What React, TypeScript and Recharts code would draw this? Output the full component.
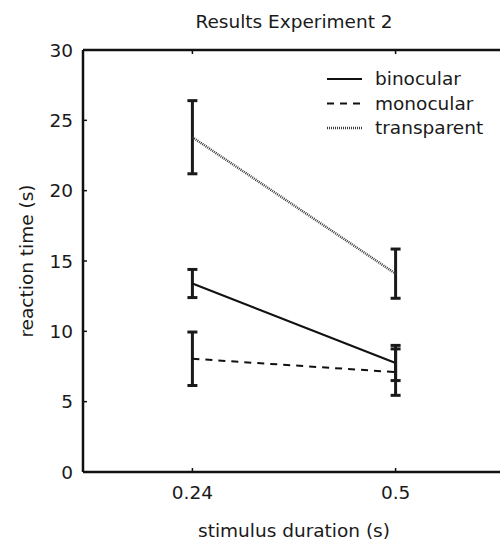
import React from 'react';
import { LineChart, Line, XAxis, YAxis, ErrorBar, Legend, Text } from 'recharts';

// ---- data ----
const durations = [0.24, 0.5];
const binocular = [13.4, 7.75];
const binocularErr = [1.0, 1.25];
const monocular = [8.05, 7.1];
const monocularErr = [1.9, 1.65];
const transparent = [23.8, 14.1];
const transparentErr = [2.6, 1.75];
const xTicks = [0.24, 0.5];
const yTicks = [0, 5, 10, 15, 20, 25, 30];
const seriesNames = ['binocular', 'monocular', 'transparent'];

const data = durations.map((d, i) => ({
  x: d,
  binocular: binocular[i],
  binocularErr: binocularErr[i],
  monocular: monocular[i],
  monocularErr: monocularErr[i],
  transparent: transparent[i],
  transparentErr: transparentErr[i],
}));

// ---- styles ----
const FONT = '"DejaVu Sans", sans-serif';
const FS = 18.5;
const TEXT_COLOR = '#1a1a1a';
const AXIS_COLOR = '#111';
const seriesStyle: Record<string, { stroke: string; dash?: string; width: number }> = {
  binocular: { stroke: '#111', width: 2 },
  monocular: { stroke: '#111', dash: '7 6', width: 2 },
  transparent: { stroke: '#3a3a3a', dash: '1 1', width: 2.5 },
};

const Y_MARGIN = 10;
const X_MARGIN = 14;
const TICK_LEN = 4;

const YTick = (props: any) => {
  const { x, y, payload } = props;
  return (
    <g>
      <line x1={x + Y_MARGIN} x2={x + Y_MARGIN + TICK_LEN} y1={y} y2={y} stroke={AXIS_COLOR} strokeWidth={1.5} />
      <Text x={x} y={y} textAnchor="end" verticalAnchor="middle" fontSize={FS} fontFamily={FONT} fill={TEXT_COLOR}>
        {String(payload.value)}
      </Text>
    </g>
  );
};

const XTick = (props: any) => {
  const { x, y, payload } = props;
  return (
    <g>
      <line x1={x} x2={x} y1={y - X_MARGIN} y2={y - X_MARGIN - TICK_LEN} stroke={AXIS_COLOR} strokeWidth={1.5} />
      <Text x={x} y={y} textAnchor="middle" verticalAnchor="start" fontSize={FS} fontFamily={FONT} fill={TEXT_COLOR}>
        {String(payload.value)}
      </Text>
    </g>
  );
};

const TopTick = (props: any) => {
  const { x, y } = props;
  return <line x1={x} x2={x} y1={y} y2={y + TICK_LEN} stroke={AXIS_COLOR} strokeWidth={1.5} />;
};

const renderLegend = () => (
  <svg width={175} height={80} style={{ display: 'block', overflow: 'visible' }}>
    {seriesNames.map((name, i) => {
      const s = seriesStyle[name];
      const cy = 13 + i * 24.5;
      return (
        <g key={name}>
          <line x1={0} x2={35} y1={cy} y2={cy} stroke={s.stroke} strokeWidth={s.width} strokeDasharray={s.dash} />
          <text x={48} y={cy + 6} fontSize={FS} fontFamily={FONT} fill={TEXT_COLOR}>
            {name}
          </text>
        </g>
      );
    })}
  </svg>
);

export default function App() {
  return (
    <div style={{ position: 'absolute', left: 0, top: 0, fontFamily: FONT }}>
      <LineChart width={520} height={543} data={data} margin={{ top: 49, right: 15, left: 0, bottom: 0 }}>
        <XAxis
          dataKey="x"
          type="number"
          domain={[0.1, 0.64]}
          ticks={xTicks}
          allowDataOverflow
          height={71}
          tickSize={0}
          tickMargin={X_MARGIN}
          tickLine={false}
          axisLine={{ stroke: AXIS_COLOR, strokeWidth: 2.5 }}
          tick={<XTick />}
          label={{ value: 'stimulus duration (s)', position: 'insideBottom', offset: 6, fontSize: FS, fill: TEXT_COLOR }}
        />
        <XAxis
          xAxisId="top"
          dataKey="x"
          orientation="top"
          type="number"
          domain={[0.1, 0.64]}
          ticks={xTicks}
          allowDataOverflow
          height={1}
          tickSize={0}
          tickMargin={0}
          tickLine={false}
          axisLine={{ stroke: AXIS_COLOR, strokeWidth: 2.5 }}
          tick={<TopTick />}
          label={{ value: 'Results Experiment 2', position: 'top', offset: 21, fontSize: FS, fill: TEXT_COLOR }}
        />
        <YAxis
          type="number"
          domain={[0, 30]}
          ticks={yTicks}
          allowDataOverflow
          width={83}
          tickSize={0}
          tickMargin={Y_MARGIN}
          tickLine={false}
          axisLine={{ stroke: AXIS_COLOR, strokeWidth: 2.5 }}
          tick={<YTick />}
          label={{
            value: 'reaction time (s)',
            angle: -90,
            position: 'insideLeft',
            offset: 26.5,
            fontSize: FS,
            fill: TEXT_COLOR,
            style: { textAnchor: 'middle' },
          }}
        />
        <Legend
          layout="horizontal"
          verticalAlign="middle"
          align="center"
          content={renderLegend}
          wrapperStyle={{ left: 327, top: 66, width: 175, height: 80 }}
        />
        {seriesNames.map((name) => {
          const s = seriesStyle[name];
          return (
            <Line
              key={name}
              dataKey={name}
              name={name}
              stroke={s.stroke}
              strokeWidth={s.width}
              strokeDasharray={s.dash}
              dot={false}
              activeDot={false}
              isAnimationActive={false}
            >
              <ErrorBar dataKey={name + 'Err'} direction="y" width={5} stroke="#1a1a1a" strokeWidth={3} isAnimationActive={false} />
            </Line>
          );
        })}
      </LineChart>
    </div>
  );
}
